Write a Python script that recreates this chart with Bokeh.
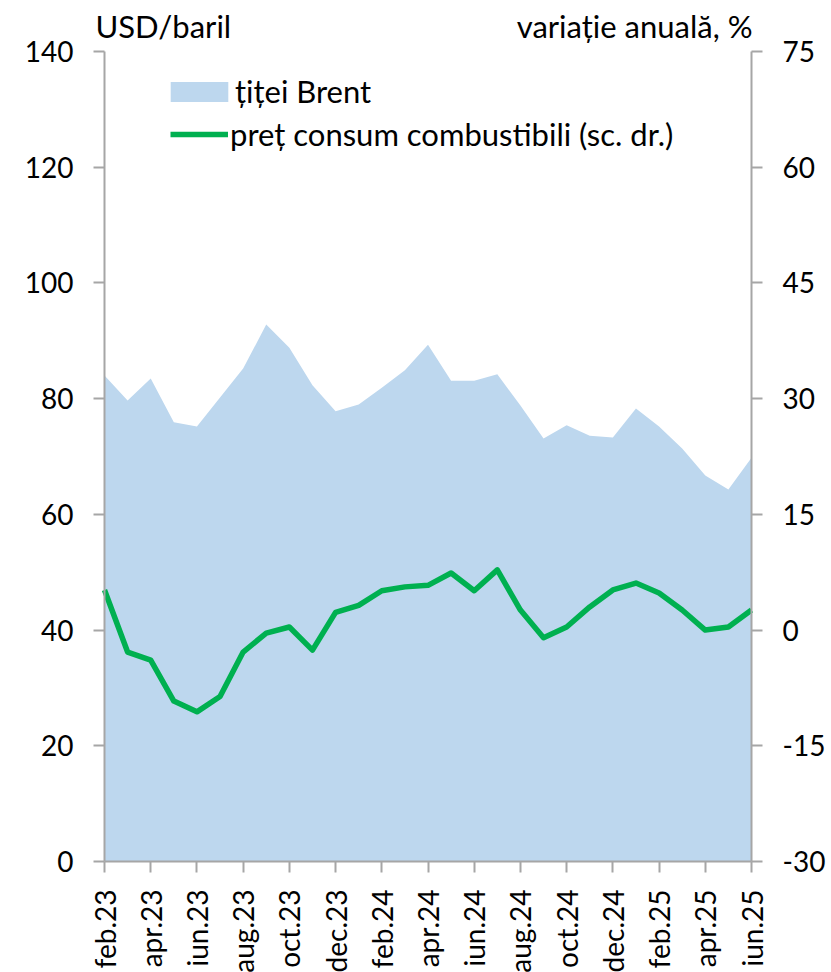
import math
from bokeh.plotting import figure
from bokeh.models import (Range1d, LinearAxis, FixedTicker, Label, Legend,
                          LegendItem, ColumnDataSource)
from bokeh.embed import file_html
from bokeh.resources import INLINE

months = ["feb.23", "mar.23", "apr.23", "mai.23", "iun.23", "iul.23", "aug.23",
          "sep.23", "oct.23", "noi.23", "dec.23", "ian.24", "feb.24", "mar.24",
          "apr.24", "mai.24", "iun.24", "iul.24", "aug.24", "sep.24", "oct.24",
          "noi.24", "dec.24", "ian.25", "feb.25", "mar.25", "apr.25", "mai.25",
          "iun.25"]
brent = [84.0, 79.7, 83.5, 75.9, 75.2, 80.2, 85.2, 92.8, 88.8, 82.3, 77.8, 79.0,
         81.9, 84.9, 89.3, 83.1, 83.1, 84.2, 78.8, 73.1, 75.4, 73.6, 73.3, 78.3,
         75.2, 71.4, 66.7, 64.3, 69.8]
fuel = [5.2, -2.85, -3.9, -9.2, -10.6, -8.6, -2.85, -0.4, 0.4, -2.6, 2.3, 3.2,
        5.1, 5.6, 5.8, 7.4, 5.1, 7.8, 2.6, -1.0, 0.4, 3.0, 5.2, 6.1, 4.8, 2.6,
        0.0, 0.4, 2.6]
left_ticks = [0, 20, 40, 60, 80, 100, 120, 140]
right_ticks = [-30, -15, 0, 15, 30, 45, 60, 75]
label_step = 2
left_title = "USD/baril"
right_title = "variație anuală, %"

FONT = "Lato"
FS = "28px"
FS2 = "31px"
GRAY = "#A6A6A6"

# layout (pixels): canvas size and plot-area box inside it
W, H = 831, 972
PL, PR, PT, PB = 104, 751, 51, 861

n = len(months) - 1
x = list(range(len(months)))
src = ColumnDataSource(dict(x=x, brent=brent, fuel=fuel, zero=[0] * len(x)))

xs = (PR - PL) / n
lo, hi = left_ticks[0], left_ticks[-1]
ys = (PB - PT) / (hi - lo)
rlo, rhi = right_ticks[0], right_ticks[-1]
rys = (PB - PT) / (rhi - rlo)

p = figure(width=W, height=H, output_backend="svg", toolbar_location=None,
           x_range=Range1d(0 - PL / xs, n + (W - PR) / xs),
           y_range=Range1d(lo - (H - PB) / ys, hi + PT / ys),
           min_border=0)
p.extra_y_ranges = {"right": Range1d(rlo - (H - PB) / rys, rhi + PT / rys)}
p.outline_line_color = None
p.xgrid.visible = False
p.ygrid.visible = False
p.background_fill_color = "white"
p.border_fill_color = "white"

area = p.varea(x="x", y1="zero", y2="brent", source=src, fill_color="#BDD7EE")
line = p.line(x="x", y="fuel", source=src, y_range_name="right",
              line_color="#00B050", line_width=5.5, line_join="round")

ax_r = LinearAxis(y_range_name="right")
p.add_layout(ax_r, "right")

ax_x = p.xaxis[0]
ax_l = p.yaxis[0]
ax_x.ticker = FixedTicker(ticks=x[::label_step])
ax_x.major_label_overrides = {i: months[i] for i in x[::label_step]}
ax_x.major_label_orientation = math.pi / 2
ax_x.fixed_location = lo
ax_x.bounds = (0, n)
ax_l.ticker = FixedTicker(ticks=left_ticks)
ax_l.fixed_location = 0
ax_l.bounds = (lo, hi)
ax_r.ticker = FixedTicker(ticks=right_ticks)
ax_r.major_label_overrides = {t: str(t) for t in right_ticks}
ax_r.fixed_location = n
ax_r.bounds = (rlo, rhi)

for ax in [ax_x, ax_l, ax_r]:
    ax.axis_line_color = GRAY
    ax.axis_line_width = 2
    ax.major_tick_line_color = GRAY
    ax.major_tick_line_width = 2
    ax.major_tick_out = 11
    ax.major_tick_in = 0
    ax.minor_tick_line_color = None
    ax.major_label_text_font = FONT
    ax.major_label_text_font_size = FS
    ax.major_label_text_color = "black"
    ax.major_label_standoff = 20
ax_x.major_label_standoff = 17

title_y = hi + (PT - 25) / ys
p.add_layout(Label(x=(95 - PL) / xs, y=title_y, text=left_title,
                   text_font=FONT, text_font_size=FS2, text_color="black",
                   text_baseline="alphabetic", text_align="left"))
p.add_layout(Label(x=n + (752 - PR) / xs, y=title_y, text=right_title,
                   text_font=FONT, text_font_size=FS2, text_color="black",
                   text_baseline="alphabetic", text_align="right"))


def style(leg):
    leg.border_line_color = None
    leg.background_fill_alpha = 0
    leg.label_text_font = FONT
    leg.label_text_font_size = FS2
    leg.label_text_color = "black"
    leg.padding = 0
    leg.margin = 0
    return leg


leg1 = style(Legend(items=[LegendItem(label="țiței Brent", renderers=[area])],
                    location=(163, 862)))
leg1.glyph_width = 72
leg1.glyph_height = 25
leg1.label_standoff = -2
p.add_layout(leg1)

leg2 = style(Legend(items=[LegendItem(label="preț consum combustibili (sc. dr.)",
                                      renderers=[line])],
                    location=(170, 819)))
leg2.glyph_width = 58
leg2.glyph_height = 20
leg2.label_standoff = 2
p.add_layout(leg2)

open("out.html", "w").write(file_html(p, INLINE))
